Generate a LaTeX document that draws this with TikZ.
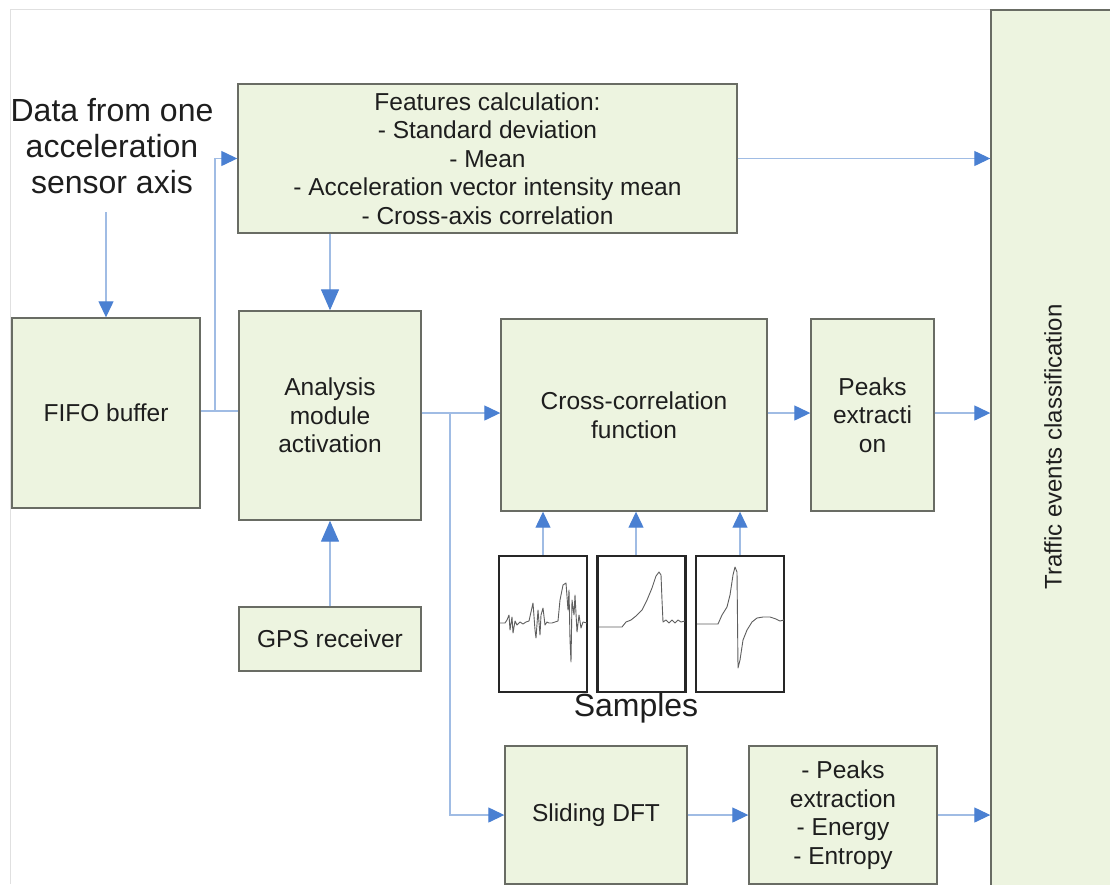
\documentclass[tikz,border=0pt]{standalone}
\usepackage{fontspec}
\setmainfont{Liberation Sans}
\usetikzlibrary{arrows.meta,calc}
\definecolor{boxfill}{RGB}{237,244,224}
\definecolor{boxline}{RGB}{105,108,100}
\definecolor{wire}{RGB}{160,188,228}
\definecolor{tipblue}{RGB}{74,128,210}
\definecolor{txt}{RGB}{30,30,30}
\definecolor{wave}{RGB}{95,95,95}
\tikzset{
  block/.style={draw=boxline, line width=1.4pt, fill=boxfill, rectangle,
    inner sep=0pt, align=center, text=txt,
    font=\fontsize{24.5}{28.5}\selectfont},
  wireline/.style={draw=wire, line width=1.3pt},
  arr/.style={wireline, -{Triangle[length=16pt,width=15pt,color=tipblue]}},
  bigarr/.style={wireline, -{Triangle[length=21pt,width=18pt,color=tipblue]}},
  panel/.style={draw=black!85, line width=2.6pt, fill=white, rectangle,
    minimum width=88pt, minimum height=136pt, inner sep=0pt},
  trace/.style={draw=wave, line width=0.9pt, line join=round},
  bigtext/.style={text=txt, align=center, font=\fontsize{32}{36}\selectfont}
}
\begin{document}
\begin{tikzpicture}[x=1pt,y=-1pt]
\useasboundingbox (0,0) rectangle (1110,884);
\clip (0,0) rectangle (1110,884);
\fill[white] (0,0) rectangle (1110,884);
% faint outer frame
\draw[black!12, line width=0.8pt] (10,884) -- (10,9) -- (991,9);

% blocks
\node[block, minimum width=499pt, minimum height=149pt] (feat) at (487.5,158.5)
  {Features calculation:\\- Standard deviation\\- Mean\\- Acceleration vector intensity mean\\- Cross-axis correlation};
\node[block, minimum width=188pt, minimum height=190pt] (fifo) at (106,413) {FIFO buffer};
\node[block, minimum width=182pt, minimum height=209pt] (anal) at (330,415.5)
  {Analysis\\module\\activation};
\node[block, minimum width=266pt, minimum height=192pt] (cross) at (634,415)
  {Cross-correlation\\function};
\node[block, minimum width=123pt, minimum height=192pt] (peaks) at (872.5,415)
  {Peaks\\extracti\\on};
\node[block, minimum width=134pt, minimum height=900pt] (traffic) at (1058,460) {};
\node[text=txt, font=\fontsize{24}{28}\selectfont, rotate=90] (tlabel) at (1053,447)
  {Traffic events classification};
\node[block, minimum width=182pt, minimum height=64pt] (gps) at (330,639) {GPS receiver};
\node[block, minimum width=182pt, minimum height=138pt] (dft) at (596,815) {Sliding DFT};
\node[block, minimum width=188pt, minimum height=138pt] (spec) at (843,815)
  {- Peaks\\extraction\\- Energy\\- Entropy};

% input label
\node[bigtext] (data) at (112,146) {Data from one\\acceleration\\sensor axis};

% sample panels
\node[panel] (s1) at (543,624) {};
\node[panel] (s2) at (641.5,624) {};
\node[panel] (s3) at (740,624) {};
\node[bigtext] (samples) at (636,708) {Samples};

% sample traces
\draw[trace] plot coordinates {(500,623) (505,623) (507,620) (509,615) (510,630) (512,617)
  (513,633) (515,621) (517,625) (520,622) (523,624) (526,622) (529,621) (531,612) (533,603)
  (535,630) (536,638) (538,610) (540,635) (541,615) (543,608) (545,625) (547,622) (549,623)
  (552,623) (555,622) (558,621) (560,600) (563,585) (566,583) (568,610) (569,590) (570,640)
  (571,662) (572,600) (574,615) (575,595) (577,632) (579,615) (581,628) (583,622) (587,623)};
\draw[trace] plot coordinates {(599,627) (622,627) (626,622) (631,620) (636,616) (642,610)
  (647,600) (652,588) (656,576) (659,572) (661,575) (662,600) (663,622) (666,620) (669,623)
  (672,620) (675,623) (678,620) (681,622) (685,621)};
\draw[trace] plot coordinates {(697,624) (718,624) (722,615) (727,607) (730,595) (733,575)
  (735,567) (737,572) (737.5,620) (738,668) (740,660) (743,640) (747,630) (752,622)
  (757,618) (763,617) (770,617) (776,619) (780,621) (784,620)};

% junctions
\coordinate (j1) at (215,411);
\coordinate (j2) at (450,413);
\coordinate (dtop) at (106,212);

% connectors
\draw[arr] (dtop) -- (fifo.north);
\draw[wireline] (fifo.east |- j1) -- (anal.west |- j1);
\draw[arr] (j1) |- (feat.west);
\draw[bigarr] (feat.south -| anal.north) -- (anal.north);
\draw[arr] (feat.east) -- (traffic.west |- feat.east);
\draw[arr] (anal.east |- j2) -- (cross.west |- j2);
\draw[arr] (j2) |- (dft.west);
\draw[arr] (cross.east |- j2) -- (peaks.west |- j2);
\draw[arr] (peaks.east |- j2) -- (traffic.west |- j2);
\draw[bigarr] (gps.north) -- (anal.south);
\draw[arr] (s1.north) -- (s1.north |- cross.south);
\draw[arr] ([xshift=-5.5pt]s2.north) -- ([xshift=-5.5pt]s2.north |- cross.south);
\draw[arr] (s3.north) -- (s3.north |- cross.south);
\draw[arr] (dft.east) -- (spec.west);
\draw[arr] (spec.east) -- (traffic.west |- spec.east);
\end{tikzpicture}
\end{document}
